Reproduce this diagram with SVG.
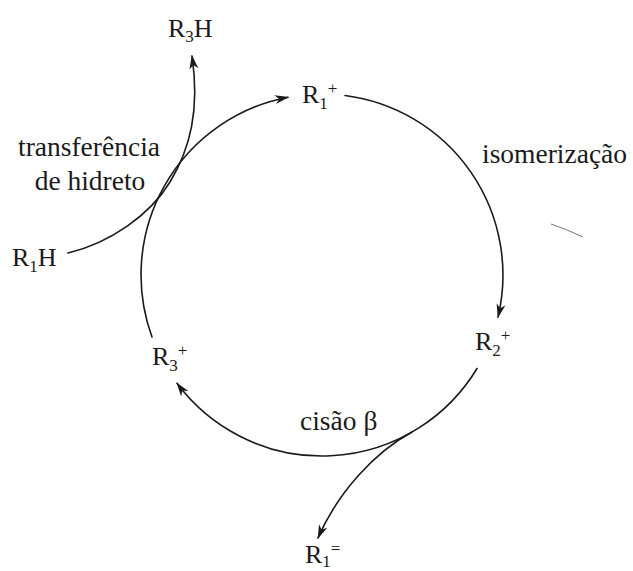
<svg xmlns="http://www.w3.org/2000/svg" width="633" height="571" viewBox="0 0 633 571" font-family="'Liberation Serif', 'DejaVu Serif', serif">
<defs>
<marker id="ah" markerUnits="userSpaceOnUse" viewBox="-14 -6 16 12" refX="0" refY="0" markerWidth="16" markerHeight="12" orient="auto">
<path d="M1,0 L-13,-4.5 L-9,0 L-13,4.5 Z" fill="#1a1a1a"/>
</marker>
<style>
.c{fill:none;stroke:#1a1a1a;stroke-width:1.6;stroke-linecap:round}
text{font-family:'Liberation Serif','DejaVu Serif',serif;fill:#1a1a1a}
.lbl{font-size:26px}
.word{font-size:27.5px}
.sub{font-size:17px}
</style>
</defs>
<rect width="633" height="571" fill="#ffffff"/>
<g id="connectors">
<path class="c" d="M345,95.5 A181,181 0 0 1 498,317" marker-end="url(#ah)"/>
<path class="c" d="M477,368.5 A181,181 0 0 1 177,383.3" marker-end="url(#ah)"/>
<path class="c" d="M152,337 A181,181 0 0 1 288,97.2" marker-end="url(#ah)"/>
<path class="c" d="M68,253 C110,243 150,215 170,182 S200,110 192,56" marker-end="url(#ah)"/>
<path class="c" d="M412,432 C375,452 338,492 318,538" marker-end="url(#ah)"/>
</g>
<g id="R3H"><text class="lbl" x="168" y="37">R<tspan class="sub" dy="5">3</tspan><tspan dy="-5">H</tspan></text></g>
<g id="R1plus"><text class="lbl" x="302" y="103">R<tspan class="sub" dy="6">1</tspan><tspan class="sub" dy="-15">+</tspan></text></g>
<g id="R1H"><text class="lbl" x="12" y="266">R<tspan class="sub" dy="6">1</tspan><tspan dy="-6">H</tspan></text></g>
<g id="R2plus"><text class="lbl" x="475" y="350">R<tspan class="sub" dy="6">2</tspan><tspan class="sub" dy="-15">+</tspan></text></g>
<g id="R3plus"><text class="lbl" x="152" y="365">R<tspan class="sub" dy="6">3</tspan><tspan class="sub" dy="-15">+</tspan></text></g>
<g id="R1eq"><text class="lbl" x="305" y="563">R<tspan class="sub" dy="4">1</tspan><tspan class="sub" dy="-13">=</tspan></text></g>
<g id="label-transferencia"><text class="word" x="89" y="156" text-anchor="middle">transferência</text><text class="word" x="90" y="190" text-anchor="middle">de hidreto</text></g>
<g id="label-isomerizacao"><text class="word" x="482" y="163">isomerização</text></g>
<g id="label-cisao"><text class="word" x="300" y="430">cisão β</text></g>
<path d="M551,224 Q566,229 583,237" fill="none" stroke="#777" stroke-width="1"/>
</svg>
